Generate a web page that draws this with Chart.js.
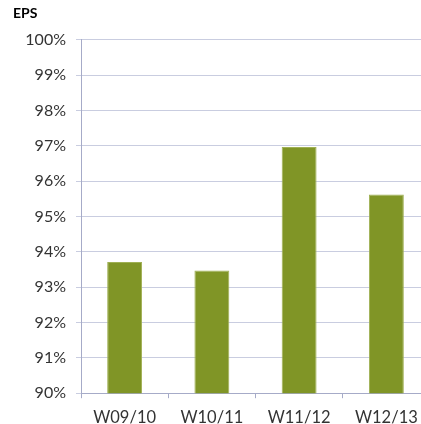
<!DOCTYPE html>
<html>
<head>
<meta charset="utf-8">
<script src="https://cdn.jsdelivr.net/npm/chart.js@4"></script>
<style>
  html, body { margin: 0; padding: 0; background: #fff; overflow: hidden; }
  #wrap { position: relative; width: 430px; height: 438px; }
</style>
</head>
<body>
<div id="wrap"><canvas id="epsChart"></canvas></div>
<script>
// Data
const seasons = ["W09/10", "W10/11", "W11/12", "W12/13"];
const epsValues = [93.71, 93.47, 96.97, 95.62];
const yMin = 90;
const yMax = 100;

const gridColor = "#c9cde0";
const axisColor = "#a6abc8";
const textColor = "#333333";

const ctx = document.getElementById("epsChart").getContext("2d");
new Chart(ctx, {
  type: "bar",
  data: {
    labels: seasons,
    datasets: [
      {
        label: "EPS",
        data: epsValues,
        backgroundColor: "#809526",
        borderColor: "#9fb053",
        borderWidth: 1,
        barPercentage: 0.4,
        categoryPercentage: 1,
      },
    ],
  },
  options: {
    responsive: true,
    maintainAspectRatio: false,
    animation: false,
    layout: { padding: { left: 13, right: 0, top: 0, bottom: 0 } },
    plugins: {
      legend: { display: false },
      tooltip: { enabled: false },
      title: {
        display: true,
        text: "EPS",
        align: "start",
        color: "#000",
        font: { family: "Lato", size: 14, weight: "bold" },
        padding: { top: 5, bottom: 18 },
      },
    },
    scales: {
      x: {
        grid: { display: true, drawOnChartArea: false, tickLength: 5, color: axisColor, offset: true },
        border: { color: axisColor },
        ticks: { color: textColor, font: { family: "Lato", size: 16.5 }, padding: 10 },
      },
      y: {
        min: yMin,
        max: yMax,
        afterFit: (scale) => { scale.width = 68; },
        grid: { color: gridColor, tickLength: 5 },
        border: { color: axisColor },
        ticks: {
          stepSize: 1,
          color: textColor,
          font: { family: "Lato", size: 16 },
          padding: 10,
          callback: (v) => v + "%",
        },
      },
    },
  },
});
</script>
</body>
</html>
